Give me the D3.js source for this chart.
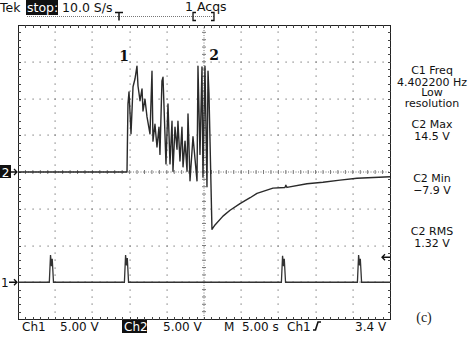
<!DOCTYPE html>
<html>
<head>
<meta charset="utf-8">
<script src="https://cdn.jsdelivr.net/npm/d3@7"></script>
<style>
  body { margin: 0; background: #fff; }
  svg { display: block; font-family: "DejaVu Sans", sans-serif; }
</style>
</head>
<body>
<div id="scope"></div>
<script>
// Scope capture: Ch2 voltage burst + Ch1 trigger pulses
// time in seconds (0..50 across 10 div), volts

// Ch2 trace (5 V/div, ground at centre)
var ch2T = [0, 14.65, 14.78, 14.92, 15.19, 15.46, 15.72, 15.99, 16.13, 16.4, 16.67, 16.8, 17.07, 17.34, 17.74,
  18.01, 18.14, 18.41, 18.68, 18.95, 19.08, 19.35, 19.49, 19.89, 20.16, 20.43, 20.7, 20.83, 21.1, 21.37, 21.5,
  21.77, 22.04, 22.18, 22.45, 22.72, 22.85, 23.12, 23.52, 24.06, 24.19, 24.46, 24.73, 24.86, 25.13, 25.4, 25.54,
  25.67, 26.07, 26.48, 27.55, 28.5, 29.84, 31.2, 32.12, 34.27, 35.88, 36.0, 36.15, 38.84, 40.99, 43.28, 45.56, 50];
var ch2V = [0, 0, 9.25, 10.9, 5.2, 11.6, 12.65, 14.4, 11.7, 9.7, 11.3, 8.3, 9.9, 7.5, 5.2,
  13.7, 4.2, 6.5, 3.4, 6.1, 2.4, 12.4, 12.9, 1.1, 9.25, 1.1, 6.9, 0.1, 6.1, 3.1, 6.9,
  1.5, 6.1, 0.7, 4.2, 0.1, 7.9, -1.2, 4.8, -1.2, 14.4, 2.4, 14.3, -0.7, 14.4, -2.0, 13.7,
  10.6, -7.8, -7.2, -6.0, -5.2, -4.3, -3.5, -2.9, -2.2, -2.1, -1.8, -2.1, -1.6, -1.4, -1.1, -0.85, -0.65];

// Ch1 trace (5 V/div, ground 3 div below centre)
var ch1T = [0, 4.21, 4.37, 4.5, 4.6, 4.77, 14.3, 14.46, 14.59, 14.69, 14.86, 35.4, 35.56, 35.69, 35.79, 35.96,
  45.62, 45.78, 45.91, 46.01, 46.18, 50];
var ch1V = [0, 0, 3.7, 2.2, 3.2, 0, 0, 3.7, 2.3, 3.3, 0, 0, 3.6, 2.2, 3.2, 0,
  0, 3.7, 2.3, 3.2, 0, 0];

// readouts
var topLabels = ["Tek", "stop:", "10.0 S/s", "1 Acqs"];
var measLabels = ["C1 Freq", "4.402200 Hz", "Low", "resolution", "C2 Max", "14.5 V", "C2 Min", "\u22127.9 V", "C2 RMS", "1.32 V"];
var bottomLabels = ["Ch1", "5.00 V", "Ch2", "5.00 V", "M  5.00 s", "Ch1", "3.4 V"];
var trigLevel = 3.4;

var W = 474, H = 354,
  pLeft = 18, pRight = 390, pTop = 25, pBottom = 319;

var x = d3.scaleLinear().domain([0, 50]).range([pLeft, pRight]);
var y2 = d3.scaleLinear().domain([-20, 20]).range([pBottom, pTop]);
var y1 = d3.scaleLinear().domain([-5, 35]).range([pBottom, pTop]);
var xDiv = d3.scaleLinear().domain([0, 10]).range([pLeft, pRight]);
var yDiv = d3.scaleLinear().domain([-4, 4]).range([pBottom, pTop]);

var svg = d3.select("#scope").append("svg")
  .attr("width", W).attr("height", H);

var grid = svg.append("g");
var dotCol = "#7a7a7a";

// dotted major lines (dots at every minor division)
d3.range(1, 10).filter(function(i) { return i != 5; }).forEach(function(i) {
  grid.selectAll(null).data(d3.range(1, 40)).enter().append("rect")
    .attr("x", Math.round(xDiv(i)) - 0.5).attr("y", function(d) { return Math.round(yDiv(-4 + d / 5)) - 0.5; })
    .attr("width", 1.2).attr("height", 1.2).attr("fill", dotCol);
});
d3.range(-3, 4).filter(function(j) { return j != 0; }).forEach(function(j) {
  grid.selectAll(null).data(d3.range(1, 50)).enter().append("rect")
    .attr("x", function(d) { return Math.round(xDiv(d / 5)) - 0.5; }).attr("y", Math.round(yDiv(j)) - 0.5)
    .attr("width", 1.2).attr("height", 1.2).attr("fill", dotCol);
});

// centre crosshair
var cy = Math.round(yDiv(0)), cx = Math.round(xDiv(5));
grid.append("line").attr("x1", pLeft).attr("x2", pRight).attr("y1", cy).attr("y2", cy)
  .attr("stroke", dotCol).attr("stroke-dasharray", "1,1.5");
grid.append("line").attr("x1", cx).attr("x2", cx).attr("y1", pTop).attr("y2", pBottom)
  .attr("stroke", dotCol).attr("stroke-dasharray", "1,1.5");
grid.selectAll(null).data(d3.range(1, 50)).enter().append("line")
  .attr("x1", function(d) { return xDiv(d / 5); }).attr("x2", function(d) { return xDiv(d / 5); })
  .attr("y1", cy - 2).attr("y2", cy + 2).attr("stroke", dotCol);
grid.selectAll(null).data(d3.range(1, 40)).enter().append("line")
  .attr("y1", function(d) { return yDiv(-4 + d / 5); }).attr("y2", function(d) { return yDiv(-4 + d / 5); })
  .attr("x1", cx - 2).attr("x2", cx + 2).attr("stroke", dotCol);

// frame with inner ticks
grid.append("rect").attr("x", pLeft + 0.5).attr("y", pTop + 0.5)
  .attr("width", pRight - pLeft).attr("height", pBottom - pTop)
  .attr("fill", "none").attr("stroke", "#222");
grid.selectAll(null).data(d3.range(1, 50)).enter().append("path")
  .attr("d", function(d) { var xx = Math.round(xDiv(d / 5)) + 0.5;
    return "M" + xx + "," + pTop + "v3M" + xx + "," + (pBottom + 1) + "v-3"; })
  .attr("stroke", "#444");
grid.selectAll(null).data(d3.range(1, 40)).enter().append("path")
  .attr("d", function(d) { var yy = Math.round(yDiv(-4 + d / 5)) + 0.5;
    return "M" + pLeft + "," + yy + "h3M" + (pRight + 1) + "," + yy + "h-3"; })
  .attr("stroke", "#444");

// traces
var line = d3.line();
svg.append("path")
  .attr("d", line(ch1T.map(function(t, i) { return [x(t), y1(ch1V[i])]; })))
  .attr("fill", "none").attr("stroke", "#333").attr("stroke-width", 1.3);
svg.append("path")
  .attr("d", line(ch2T.map(function(t, i) { return [x(t), y2(ch2V[i])]; })))
  .attr("fill", "none").attr("stroke", "#2a2a2a").attr("stroke-width", 1.4)
  .attr("stroke-linejoin", "round");

// ground markers
var g2 = svg.append("g");
g2.append("rect").attr("x", 0).attr("y", y2(0) - 7).attr("width", 11).attr("height", 13).attr("fill", "#111");
g2.append("text").attr("x", 5.5).attr("y", y2(0) + 4.5).attr("text-anchor", "middle")
  .attr("font-size", 12).attr("fill", "#fff").text("2");
g2.append("path").attr("d", "M11," + y2(0) + "h6M14," + (y2(0) - 3) + "l3,3l-3,3")
  .attr("stroke", "#111").attr("fill", "none").attr("stroke-width", 1.3);
svg.append("text").attr("x", 1).attr("y", y1(0) + 4.5)
  .attr("font-size", 12).attr("fill", "#111").text("1");
svg.append("path").attr("d", "M9," + y1(0) + "h8M14," + (y1(0) - 3) + "l3,3l-3,3")
  .attr("stroke", "#111").attr("fill", "none").attr("stroke-width", 1.3);

// trigger level marker
var ty = y1(trigLevel);
svg.append("path").attr("d", "M382," + ty + "h8M385," + (ty - 3) + "l-3,3l3,3")
  .attr("stroke", "#111").attr("fill", "none").attr("stroke-width", 1.3);

// peak labels
svg.append("text").attr("x", 124).attr("y", 61).attr("text-anchor", "middle")
  .attr("font-family", "'DejaVu Serif', serif").attr("font-weight", "bold").attr("font-size", 14)
  .attr("fill", "#111").text("1");
svg.append("text").attr("x", 214).attr("y", 60).attr("text-anchor", "middle")
  .attr("font-family", "'DejaVu Serif', serif").attr("font-weight", "bold").attr("font-size", 14)
  .attr("fill", "#111").text("2");

// top status line
var tf = 12.5;
svg.append("text").attr("x", 0).attr("y", 12).attr("font-size", tf).attr("fill", "#111").text(topLabels[0]);
svg.append("rect").attr("x", 26).attr("y", 0).attr("width", 32).attr("height", 15).attr("fill", "#111");
svg.append("text").attr("x", 27).attr("y", 12).attr("font-size", tf).attr("fill", "#fff").text(topLabels[1]);
svg.append("text").attr("x", 62).attr("y", 12).attr("font-size", tf).attr("fill", "#111").text(topLabels[2]);
svg.append("text").attr("x", 185).attr("y", 11).attr("font-size", tf).attr("fill", "#111").text(topLabels[3]);
svg.append("line").attr("x1", 27).attr("x2", 214).attr("y1", 16.5).attr("y2", 16.5)
  .attr("stroke", "#777").attr("stroke-dasharray", "1,1");
svg.append("path").attr("d", "M115,12.5h8M119,12.5v8").attr("stroke", "#111").attr("stroke-width", 1.5).attr("fill", "none");
svg.append("path").attr("d", "M196,12.5h-3v8h3M211,12.5h3v8h-3").attr("stroke", "#111").attr("stroke-width", 1.3).attr("fill", "none");

// measurements column
var measY = [70, 82, 92, 103, 124, 136, 178, 190, 231, 243];
svg.selectAll(null).data(measLabels).enter().append("text")
  .attr("x", 432).attr("y", function(d, i) { return measY[i] + 4; })
  .attr("text-anchor", "middle").attr("font-size", 11).attr("fill", "#111")
  .text(function(d) { return d; });

// bottom status line
var bx = [22, 60, 124, 163, 224, 287, 355];
var by = 331;
svg.append("rect").attr("x", 122).attr("y", by - 11).attr("width", 25).attr("height", 13).attr("fill", "#111");
bottomLabels.forEach(function(s, i) {
  svg.append("text").attr("x", bx[i]).attr("y", by).attr("font-size", 12)
    .attr("fill", i == 2 ? "#fff" : "#111").attr("xml:space", "preserve").text(s);
});
// rising-edge trigger glyph
svg.append("path").attr("d", "M313," + (by - 1) + "h2.5l2.5,-8h3")
  .attr("stroke", "#111").attr("stroke-width", 1.6).attr("fill", "none");

svg.append("text").attr("x", 424).attr("y", 322).attr("text-anchor", "middle")
  .attr("font-family", "'Liberation Serif', serif").attr("font-size", 14).attr("fill", "#222").text("(c)");
</script>
</body>
</html>
